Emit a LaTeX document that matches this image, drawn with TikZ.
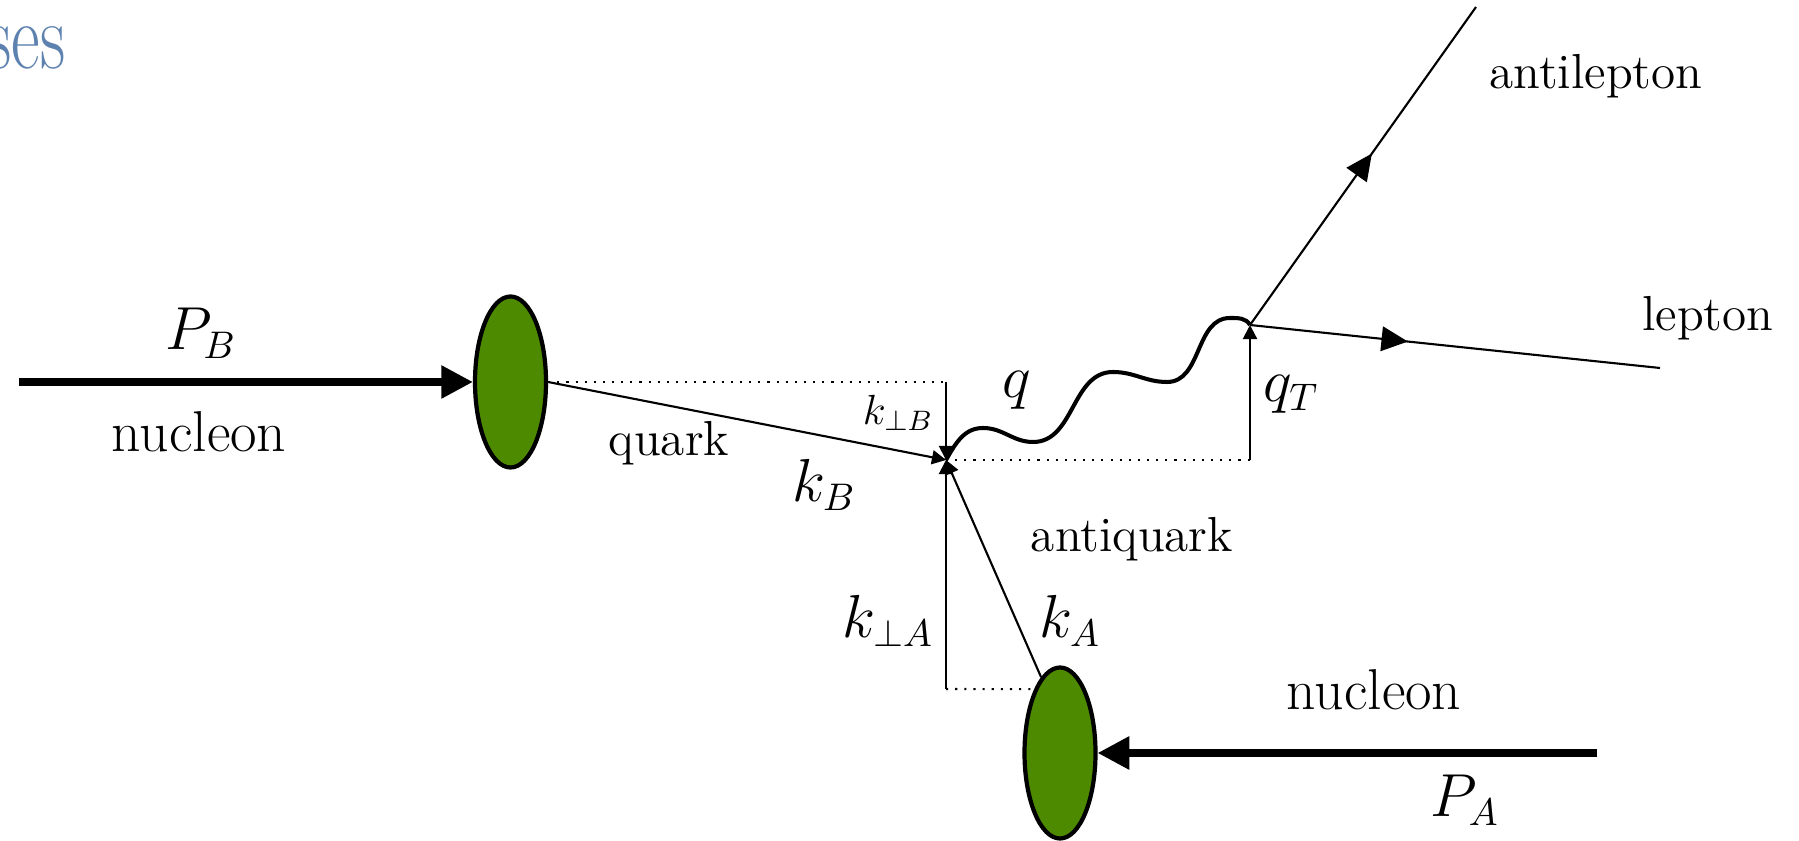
\documentclass[tikz,border=0pt]{standalone}
\usepackage{amsmath,amssymb}
\usepackage{tikz}
\usetikzlibrary{arrows.meta,shapes.geometric,decorations.markings}
\usepackage{xcolor}
\definecolor{blobgreen}{RGB}{78,138,0}
\definecolor{slideblue}{RGB}{94,130,176}

\begin{document}
\begin{tikzpicture}[
      blob/.style={ellipse, draw, line width=1.2pt, fill=blobgreen,
        minimum width=7.1mm, minimum height=17.1mm, inner sep=0pt},
      beam/.style={line width=2pt, -{Triangle[length=9pt, width=9pt]}},
      kline/.style={line width=0.6pt, -{Triangle[length=4pt, width=4pt]}},
      proj/.style={line width=0.6pt, dotted},
      photon/.style={line width=1.15pt},
      fermion/.style={line width=0.6pt, postaction={decorate},
        decoration={markings, mark=at position #1 with
          {\arrow{Triangle[length=7.5pt, width=7pt]}}}},
      hadlbl/.style={font=\fontsize{16.4}{20}\selectfont},
      partlbl/.style={font=\fontsize{14}{17}\selectfont},
      momlbl/.style={font=\fontsize{16}{19}\selectfont},
      smallmom/.style={font=\fontsize{12}{14}\selectfont},
    ]
    \useasboundingbox (0,0) rectangle (17.99,-8.41);

    % leftover slide title
    \node[anchor=base east, inner sep=0pt, text=slideblue,
      font=\fontsize{27}{30}\selectfont]
      (title) at (0.66,-0.685) {\scalebox{0.74}[1]{ses}};

    % Kinematic points
    \coordinate (vtx) at (9.46,-4.60);
    \coordinate (lep) at (12.50,-3.25);
    \coordinate (cornB) at (9.46,-3.82);
    \coordinate (cornA) at (9.46,-6.89);
    \coordinate (qbase) at (12.50,-4.60);
    \coordinate (inB) at (0.19,-3.82);
    \coordinate (inA) at (15.97,-7.53);
    \coordinate (lepEnd) at (16.60,-3.68);
    \coordinate (alEnd) at (14.76,-0.07);

    % Nucleons
    \node[blob] (nucB) at (5.105,-3.82) {};
    \node[blob] (nucA) at (10.60,-7.53) {};
    \draw[beam] (inB) -- (nucB.west);
    \draw[beam] (inA) -- (nucA.east);

    % Transverse projections
    \draw[proj] (nucB.east) -- (cornB);
    \draw[proj] (cornA) -- (nucA.112);
    \draw[proj] (vtx) -- (qbase);

    % Partons into the vertex
    \foreach \src in {cornB, nucB.east, cornA, nucA.104}
      \draw[kline] (\src) -- (vtx);
    \draw[kline] (qbase) -- (lep);

    % Virtual photon
    \draw[photon] (vtx) to[out=60,in=180] (9.83,-4.28)
      to[out=0,in=180] (10.33,-4.42) to[out=0,in=180] (11.13,-3.72)
      to[out=0,in=180] (11.67,-3.82) to[out=0,in=180] (12.30,-3.18)
      to[out=0,in=120] (lep);

    % Lepton pair
    \draw[fermion=0.385] (lep) -- (lepEnd);
    \draw[fermion=0.54] (lep) -- (alEnd);

    % Labels
    \node[momlbl] (pB) at (2.01,-3.33) {$P_B$};
    \node[hadlbl] (nameB) at (1.99,-4.32) {nucleon};
    \node[partlbl] (qrk) at (6.69,-4.43) {quark};
    \node[momlbl] (kB) at (8.24,-4.85) {$k_B$};
    \node[smallmom] (kpB) at (8.98,-4.13) {$k_{\perp B}$};
    \node[momlbl] (qlbl) at (10.17,-3.90) {$q$};
    \node[momlbl] (qT) at (12.91,-3.94) {$q_T$};
    \node[partlbl] (aqrk) at (11.32,-5.39) {antiquark};
    \node[momlbl] (kpA) at (8.88,-6.21) {$k_{\perp A}$};
    \node[momlbl] (kA) at (10.70,-6.21) {$k_A$};
    \node[hadlbl] (nameA) at (13.74,-6.90) {nucleon};
    \node[momlbl] (pA) at (14.65,-8.00) {$P_A$};
    \node[partlbl] (lpt) at (17.08,-3.18) {lepton};
    \node[partlbl] (alpt) at (15.96,-0.76) {antilepton};
  \end{tikzpicture}
\end{document}
